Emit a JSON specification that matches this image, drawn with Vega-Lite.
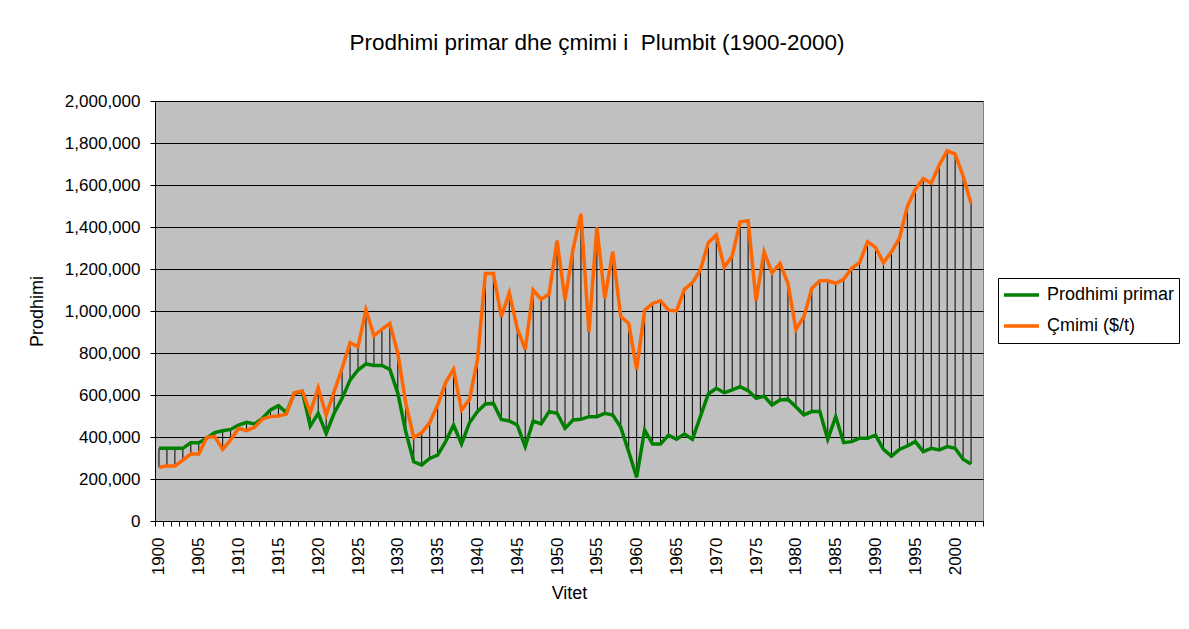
{
  "$schema": "https://vega.github.io/schema/vega-lite/v6.json",
  "width": 828,
  "height": 420,
  "autosize": {"type": "none"},
  "padding": {"left": 155, "top": 101, "right": 206, "bottom": 108},
  "background": "white",
  "title": {
    "text": "Prodhimi primar dhe çmimi i \u00a0Plumbit (1900-2000)",
    "font": "Liberation Sans",
    "fontSize": 22.5,
    "fontWeight": "normal",
    "color": "black",
    "anchor": "middle",
    "frame": "group",
    "dx": 28,
    "offset": 38
  },
  "config": {
    "view": {"stroke": "#808080", "strokeWidth": 1, "fill": "#C0C0C0"},
    "axis": {
      "labelFont": "Liberation Sans",
      "titleFont": "Liberation Sans",
      "labelColor": "black",
      "titleColor": "black",
      "labelFontSize": 17,
      "titleFontSize": 18,
      "titleFontWeight": "normal",
      "domainColor": "black",
      "domainWidth": 1,
      "tickColor": "black",
      "tickWidth": 1,
      "tickSize": 5
    },
    "legend": {
      "labelFont": "Liberation Sans",
      "labelFontSize": 18,
      "labelColor": "black"
    }
  },
  "data": {
    "values": [
      {"year": 1900, "prod": 346000, "price": 256000},
      {"year": 1901, "prod": 346000, "price": 262000},
      {"year": 1902, "prod": 346000, "price": 262000},
      {"year": 1903, "prod": 346000, "price": 290000},
      {"year": 1904, "prod": 373000, "price": 319000},
      {"year": 1905, "prod": 373000, "price": 319000},
      {"year": 1906, "prod": 394000, "price": 398000},
      {"year": 1907, "prod": 421000, "price": 402000},
      {"year": 1908, "prod": 430000, "price": 341000},
      {"year": 1909, "prod": 436000, "price": 386000},
      {"year": 1910, "prod": 457000, "price": 441000},
      {"year": 1911, "prod": 470000, "price": 430000},
      {"year": 1912, "prod": 462000, "price": 446000},
      {"year": 1913, "prod": 489000, "price": 486000},
      {"year": 1914, "prod": 529000, "price": 497000},
      {"year": 1915, "prod": 549000, "price": 500000},
      {"year": 1916, "prod": 516000, "price": 509000},
      {"year": 1917, "prod": 608000, "price": 611000},
      {"year": 1918, "prod": 616000, "price": 619000},
      {"year": 1919, "prod": 452000, "price": 516000},
      {"year": 1920, "prod": 513000, "price": 635000},
      {"year": 1921, "prod": 417000, "price": 505000},
      {"year": 1922, "prod": 513000, "price": 616000},
      {"year": 1923, "prod": 584000, "price": 727000},
      {"year": 1924, "prod": 671000, "price": 849000},
      {"year": 1925, "prod": 719000, "price": 830000},
      {"year": 1926, "prod": 748000, "price": 1005000},
      {"year": 1927, "prod": 741000, "price": 882000},
      {"year": 1928, "prod": 741000, "price": 913000},
      {"year": 1929, "prod": 722000, "price": 941000},
      {"year": 1930, "prod": 608000, "price": 798000},
      {"year": 1931, "prod": 425000, "price": 560000},
      {"year": 1932, "prod": 282000, "price": 398000},
      {"year": 1933, "prod": 267000, "price": 421000},
      {"year": 1934, "prod": 298000, "price": 468000},
      {"year": 1935, "prod": 314000, "price": 552000},
      {"year": 1936, "prod": 378000, "price": 659000},
      {"year": 1937, "prod": 457000, "price": 722000},
      {"year": 1938, "prod": 367000, "price": 528000},
      {"year": 1939, "prod": 468000, "price": 579000},
      {"year": 1940, "prod": 521000, "price": 767000},
      {"year": 1941, "prod": 557000, "price": 1179000},
      {"year": 1942, "prod": 560000, "price": 1179000},
      {"year": 1943, "prod": 484000, "price": 973000},
      {"year": 1944, "prod": 476000, "price": 1087000},
      {"year": 1945, "prod": 457000, "price": 917000},
      {"year": 1946, "prod": 354000, "price": 817000},
      {"year": 1947, "prod": 476000, "price": 1100000},
      {"year": 1948, "prod": 462000, "price": 1055000},
      {"year": 1949, "prod": 521000, "price": 1081000},
      {"year": 1950, "prod": 513000, "price": 1335000},
      {"year": 1951, "prod": 441000, "price": 1052000},
      {"year": 1952, "prod": 481000, "price": 1293000},
      {"year": 1953, "prod": 484000, "price": 1462000},
      {"year": 1954, "prod": 497000, "price": 901000},
      {"year": 1955, "prod": 497000, "price": 1398000},
      {"year": 1956, "prod": 513000, "price": 1060000},
      {"year": 1957, "prod": 505000, "price": 1282000},
      {"year": 1958, "prod": 446000, "price": 973000},
      {"year": 1959, "prod": 330000, "price": 941000},
      {"year": 1960, "prod": 208000, "price": 722000},
      {"year": 1961, "prod": 433000, "price": 1004000},
      {"year": 1962, "prod": 367000, "price": 1036000},
      {"year": 1963, "prod": 367000, "price": 1049000},
      {"year": 1964, "prod": 409000, "price": 1004000},
      {"year": 1965, "prod": 389000, "price": 1001000},
      {"year": 1966, "prod": 414000, "price": 1103000},
      {"year": 1967, "prod": 389000, "price": 1135000},
      {"year": 1968, "prod": 497000, "price": 1195000},
      {"year": 1969, "prod": 605000, "price": 1325000},
      {"year": 1970, "prod": 632000, "price": 1362000},
      {"year": 1971, "prod": 611000, "price": 1208000},
      {"year": 1972, "prod": 624000, "price": 1262000},
      {"year": 1973, "prod": 640000, "price": 1425000},
      {"year": 1974, "prod": 621000, "price": 1430000},
      {"year": 1975, "prod": 584000, "price": 1049000},
      {"year": 1976, "prod": 595000, "price": 1282000},
      {"year": 1977, "prod": 552000, "price": 1182000},
      {"year": 1978, "prod": 576000, "price": 1227000},
      {"year": 1979, "prod": 579000, "price": 1132000},
      {"year": 1980, "prod": 544000, "price": 912000},
      {"year": 1981, "prod": 505000, "price": 973000},
      {"year": 1982, "prod": 521000, "price": 1108000},
      {"year": 1983, "prod": 521000, "price": 1144000},
      {"year": 1984, "prod": 389000, "price": 1144000},
      {"year": 1985, "prod": 497000, "price": 1132000},
      {"year": 1986, "prod": 373000, "price": 1151000},
      {"year": 1987, "prod": 378000, "price": 1203000},
      {"year": 1988, "prod": 394000, "price": 1230000},
      {"year": 1989, "prod": 394000, "price": 1330000},
      {"year": 1990, "prod": 409000, "price": 1303000},
      {"year": 1991, "prod": 341000, "price": 1230000},
      {"year": 1992, "prod": 309000, "price": 1282000},
      {"year": 1993, "prod": 341000, "price": 1346000},
      {"year": 1994, "prod": 357000, "price": 1497000},
      {"year": 1995, "prod": 378000, "price": 1579000},
      {"year": 1996, "prod": 330000, "price": 1631000},
      {"year": 1997, "prod": 346000, "price": 1608000},
      {"year": 1998, "prod": 338000, "price": 1695000},
      {"year": 1999, "prod": 354000, "price": 1763000},
      {"year": 2000, "prod": 346000, "price": 1747000},
      {"year": 2001, "prod": 294000, "price": 1643000},
      {"year": 2002, "prod": 271000, "price": 1512000}
    ]
  },
  "encoding": {
    "x": {
      "field": "year",
      "type": "ordinal",
      "bandPosition": 0.5,
      "scale": {
        "type": "band",
        "paddingInner": 0,
        "paddingOuter": 0,
        "domain": [1900,1901,1902,1903,1904,1905,1906,1907,1908,1909,1910,1911,1912,1913,1914,1915,1916,1917,1918,1919,1920,1921,1922,1923,1924,1925,1926,1927,1928,1929,1930,1931,1932,1933,1934,1935,1936,1937,1938,1939,1940,1941,1942,1943,1944,1945,1946,1947,1948,1949,1950,1951,1952,1953,1954,1955,1956,1957,1958,1959,1960,1961,1962,1963,1964,1965,1966,1967,1968,1969,1970,1971,1972,1973,1974,1975,1976,1977,1978,1979,1980,1981,1982,1983,1984,1985,1986,1987,1988,1989,1990,1991,1992,1993,1994,1995,1996,1997,1998,1999,2000,2001,2002,2003]
      },
      "axis": {
        "title": "Vitet",
        "labelAngle": -90,
        "labelExpr": "datum.value % 5 === 0 ? datum.label : ''",
        "labelOverlap": false,
        "tickBand": "extent",
        "labelPadding": 11,
        "titlePadding": 10,
        "grid": false
      }
    }
  },
  "layer": [
    {
      "mark": {"type": "rule", "color": "black", "strokeWidth": 1},
      "encoding": {
        "y": {
          "field": "prod",
          "type": "quantitative",
          "scale": {"domain": [0, 2000000], "nice": false},
          "axis": {
            "title": "Prodhimi",
            "values": [0, 200000, 400000, 600000, 800000, 1000000, 1200000, 1400000, 1600000, 1800000, 2000000],
            "format": ",.0f",
            "grid": true,
            "gridColor": "black",
            "gridWidth": 1,
            "gridOpacity": 1,
            "labelPadding": 10,
            "titlePadding": 18
          }
        },
        "y2": {"field": "price"}
      }
    },
    {
      "mark": {"type": "line", "strokeWidth": 3.5},
      "encoding": {
        "y": {"field": "prod", "type": "quantitative"},
        "color": {
          "datum": "Prodhimi primar",
          "type": "nominal",
          "scale": {"domain": ["Prodhimi primar", "Çmimi ($/t)"], "range": ["#008000", "#FF6600"]},
          "legend": {
            "title": null,
            "orient": "none",
            "legendX": 843,
            "legendY": 177,
            "strokeColor": "black",
            "fillColor": "white",
            "padding": 4,
            "symbolType": "stroke",
            "symbolStrokeWidth": 3.5,
            "symbolSize": 1225,
            "clipHeight": 26,
            "labelOffset": 6,
            "rowPadding": 5
          }
        }
      }
    },
    {
      "mark": {"type": "line", "strokeWidth": 3.5},
      "encoding": {
        "y": {"field": "price", "type": "quantitative"},
        "color": {"datum": "Çmimi ($/t)", "type": "nominal"}
      }
    }
  ]
}
